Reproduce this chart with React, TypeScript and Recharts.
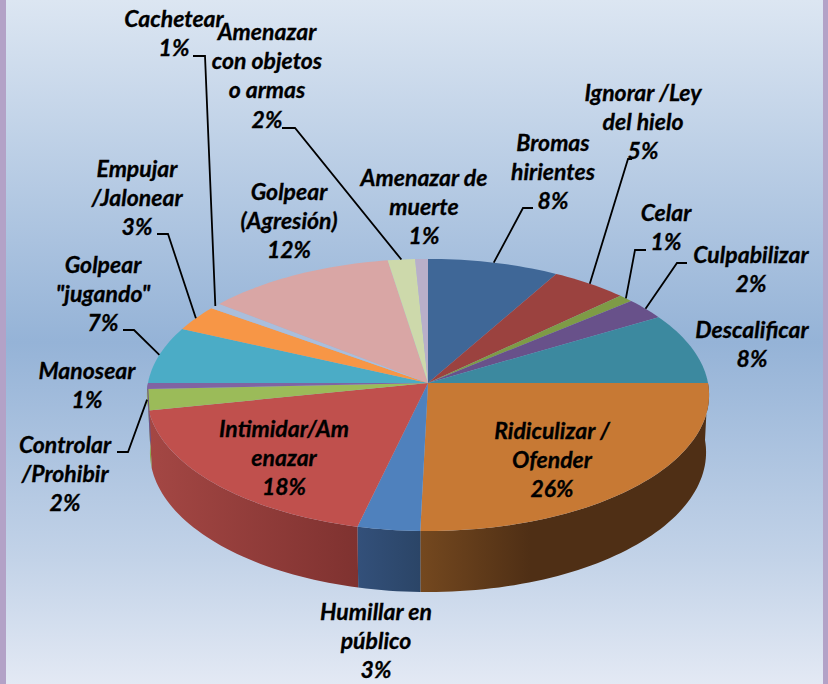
import React from "react";
import { PieChart, Pie, Cell } from "recharts";

const categories = [
  "Bromas hirientes", "Ignorar /Ley del hielo", "Celar", "Culpabilizar", "Descalificar",
  "Ridiculizar / Ofender", "Humillar en público", "Intimidar/Amenazar", "Controlar /Prohibir", "Manosear",
  'Golpear "jugando"', "Empujar /Jalonear", "Cachetear", "Golpear (Agresión)",
  "Amenazar con objetos o armas", "Amenazar de muerte",
];
const values = [8.2, 4.8, 0.9, 2.6, 8.5, 25.4, 3.3, 18.1, 2.5, 0.7, 6.8, 3.1, 0.7, 11.9, 1.7, 0.8];
const printed = ["8%", "5%", "1%", "2%", "8%", "26%", "3%", "18%", "2%", "1%", "7%", "3%", "1%", "12%", "2%", "1%"];
const labelLines = [
  ["Bromas", "hirientes"], ["Ignorar /Ley", "del hielo"], ["Celar"], ["Culpabilizar"], ["Descalificar"],
  ["Ridiculizar /", "Ofender"], ["Humillar en", "público"], ["Intimidar/Am", "enazar"], ["Controlar", "/Prohibir"], ["Manosear"],
  ["Golpear", '"jugando"'], ["Empujar", "/Jalonear"], ["Cachetear"], ["Golpear", "(Agresión)"],
  ["Amenazar", "con objetos", "o armas"], ["Amenazar de", "muerte"],
];

const colors = [
  "#3F6797", "#9B423F", "#7E9B46", "#68518A", "#3C899F", "#C77934", "#4F81BD", "#C0504D",
  "#9BBB59", "#8064A2", "#4BACC6", "#F79646", "#A9BEDC", "#D9A6A5", "#CDD9AB", "#B9AFC9",
];
const wallFrom = ["", "", "", "", "", "#74481F", "#33507A", "#A44744", "#8AA84E", "#6C5489", "", "", "", "", "", ""];
const wallTo = ["", "", "", "", "", "#4F2F15", "#2B4567", "#7F3230", "#8AA84E", "#6C5489", "", "", "", "", "", ""];

// label centre x, first line centre y
const labelX = [553, 643, 666, 751, 752, 552, 376, 284, 65, 87, 103, 137, 174, 289, 267, 424];
const labelY = [143, 93, 213, 255, 330, 431, 612, 429, 445, 371, 265, 169, 19, 192, 32, 178];
// leader line: start and elbow, the far end is taken from the slice
const leaderStart: (number[] | null)[] = [
  [533, 208], [632, 159], [646, 250], [687, 263], null, null, null, null,
  [117, 452], null, [123, 330], [157, 234], [193, 56], null, [282, 128], null,
];
const leaderElbow: (number[] | null)[] = [
  [523, 208], [628, 159], [635, 250], [677, 263], null, null, null, null,
  [128, 452], null, [134, 330], [168, 234], [205, 56], null, [295, 128], null,
];

const data = categories.map((name, i) => ({ name, value: values[i] }));

const W = 828;
const H = 684;
const LINE = 29.2;
const TILT = 0.088; // perspective strength
const SQUASH = 135 / 280;

// recharts angle (deg, ccw from east) -> point on the tilted rim
function rim(cx: number, cy: number, r: number, angle: number, lower = false) {
  const rad = (angle * Math.PI) / 180;
  const X = Math.cos(rad);
  const Yback = Math.sin(rad);
  const w = 1 + TILT * Yback;
  if (lower) {
    return [cx + ((r - 3) * X) / w, cy + 57 - (r * SQUASH * 1.027 * Yback) / w];
  }
  return [cx + (r * X) / w, cy - (r * SQUASH * Yback) / w];
}

function arcPoints(cx: number, cy: number, r: number, a0: number, a1: number, lower = false) {
  const n = Math.max(2, Math.ceil(Math.abs(a1 - a0) / 1.5));
  const pts: number[][] = [];
  for (let i = 0; i <= n; i++) pts.push(rim(cx, cy, r, a0 + ((a1 - a0) * i) / n, lower));
  return pts;
}

const toPath = (pts: number[][]) =>
  pts.map((p, i) => `${i ? "L" : "M"}${p[0].toFixed(2)},${p[1].toFixed(2)}`).join(" ") + " Z";

function Slice3D(props: any) {
  const { cx, cy, outerRadius, startAngle, endAngle, index, fill } = props;
  const top = [[cx, cy], ...arcPoints(cx, cy, outerRadius, startAngle, endAngle)];

  // only the front half of the drum shows a wall (angles -180..0)
  const a0 = Math.min(startAngle, 0);
  const a1 = Math.max(endAngle, -180);
  let wall = null;
  if (a0 > a1 && wallFrom[index]) {
    const upper = arcPoints(cx, cy, outerRadius, a0, a1);
    const lower = arcPoints(cx, cy, outerRadius, a1, a0, true);
    const xs = upper.map((p) => p[0]);
    const x1 = Math.min(...xs);
    let x2 = Math.max(...xs);
    // Ridiculizar reaches its darkest tone early on
    if (index === 5) x2 = x1 + 110;
    if (x1 === x2) x2 = x1 + 1;
    const id = `wall-${index}`;
    wall = (
      <g>
        <defs>
          <linearGradient id={id} gradientUnits="userSpaceOnUse" x1={x1} x2={x2} y1={0} y2={0}>
            <stop offset="0" stopColor={wallFrom[index]} />
            <stop offset="1" stopColor={wallTo[index]} />
          </linearGradient>
        </defs>
        <path d={toPath([...upper, ...lower])} fill={`url(#${id})`} />
      </g>
    );
  }
  return (
    <g>
      {wall}
      <path d={toPath(top)} fill={fill} />
    </g>
  );
}

function SliceLabel(props: any) {
  const { cx, cy, outerRadius, midAngle, index } = props;
  const lines = [...labelLines[index], printed[index]];
  const start = leaderStart[index];
  const elbow = leaderElbow[index];
  let leader = null;
  if (start && elbow) {
    const end = rim(cx, cy, outerRadius, midAngle);
    leader = (
      <polyline
        points={`${start[0]},${start[1]} ${elbow[0]},${elbow[1]} ${end[0]},${end[1]}`}
        fill="none"
        stroke="#000"
        strokeWidth={1.8}
      />
    );
  }
  return (
    <g>
      {leader}
      <text
        textAnchor="middle"
        fontFamily="Lato"
        fontWeight={700}
        fontStyle="italic"
        fontSize={23}
        stroke="#000"
        strokeWidth={0.3}
        fill="#000"
      >
        {lines.map((t, i) => (
          <tspan key={i} x={labelX[index]} y={labelY[index] + i * LINE + 8}>
            {t}
          </tspan>
        ))}
      </text>
    </g>
  );
}

export default function App() {
  return (
    <div
      style={{
        position: "absolute",
        left: 0,
        top: 0,
        width: W,
        height: H,
        overflow: "hidden",
        background: "linear-gradient(180deg, #DCE6F2 0%, #95B3D7 50%, #C3D3E8 82%, #E3E9F4 100%)",
      }}
    >
      <div style={{ position: "absolute", left: 0, top: 0, width: 6, height: H, background: "#B3A2C7" }} />
      <div style={{ position: "absolute", right: 0, top: 0, width: 5, height: H, background: "#B3A2C7" }} />
      <div style={{ position: "absolute", left: 0, top: 0 }}>
        <PieChart width={W} height={H} margin={{ top: 0, right: 0, bottom: 0, left: 0 }}>
          <Pie
            data={data}
            dataKey="value"
            nameKey="name"
            cx={428}
            cy={383}
            innerRadius={0}
            outerRadius={280}
            startAngle={90}
            endAngle={-270}
            stroke="none"
            isAnimationActive={false}
            shape={Slice3D}
            label={SliceLabel}
            labelLine={false}
          >
            {data.map((d, i) => (
              <Cell key={d.name} fill={colors[i]} />
            ))}
          </Pie>
        </PieChart>
      </div>
    </div>
  );
}
